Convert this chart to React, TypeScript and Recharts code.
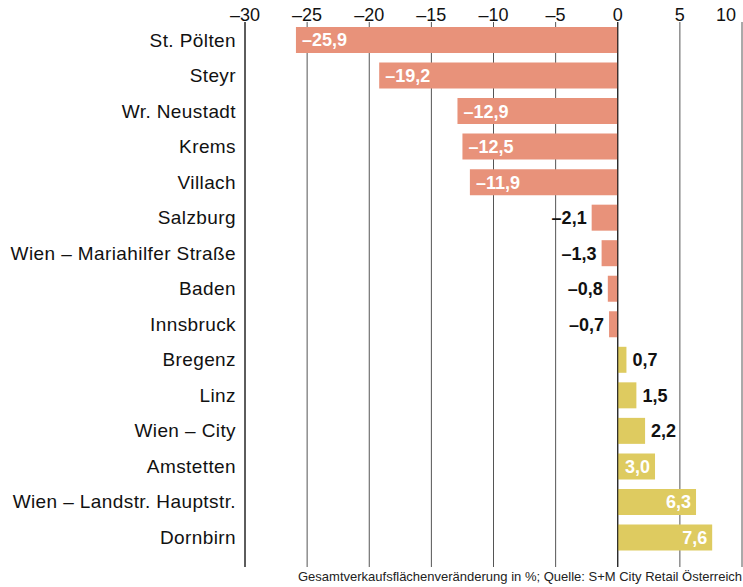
import { Bar, BarChart, CartesianGrid, Cell, LabelList, ReferenceLine, XAxis, YAxis } from 'recharts'

const salmon = '#e8927a'
const yellow = '#decb60'
const font = '"Liberation Sans", Arial, Helvetica, sans-serif'

const cities = [
  'St. Pölten',
  'Steyr',
  'Wr. Neustadt',
  'Krems',
  'Villach',
  'Salzburg',
  'Wien – Mariahilfer Straße',
  'Baden',
  'Innsbruck',
  'Bregenz',
  'Linz',
  'Wien – City',
  'Amstetten',
  'Wien – Landstr. Hauptstr.',
  'Dornbirn',
]

const changes = [-25.9, -19.2, -12.9, -12.5, -11.9, -2.1, -1.3, -0.8, -0.7, 0.7, 1.5, 2.2, 3.0, 6.3, 7.6]

const xTicks = [-30, -25, -20, -15, -10, -5, 0, 5, 10]

const footnote = 'Gesamtverkaufsflächenveränderung in %; Quelle: S+M City Retail Österreich'

const data = cities.map((city, i) => ({ city, change: changes[i] }))

function fmt(v: number, digits: number) {
  const s = Math.abs(v).toFixed(digits).replace('.', ',')
  return v < 0 ? '–' + s : s
}

function TopTick(props: any) {
  const { x, y, payload } = props
  const last = payload.value === xTicks[xTicks.length - 1]
  return (
    <text x={last ? x + 1 : x} y={y} textAnchor={last ? 'end' : 'middle'} fontFamily={font} fontSize={18} fill="#111">
      {fmt(payload.value, 0)}
    </text>
  )
}

function ValueLabel(props: any) {
  const { x, y, width, height, value } = props
  const left = Math.min(x, x + width)
  const right = Math.max(x, x + width)
  const inside = Math.abs(value) >= 3
  let tx = 0
  let anchor = 'start'
  if (value < 0) {
    tx = inside ? left + 6 : left - 5
    anchor = inside ? 'start' : 'end'
  } else {
    tx = inside ? right - 5 : right + 6
    anchor = inside ? 'end' : 'start'
  }
  return (
    <text
      x={tx}
      y={y + height / 2}
      dy="0.36em"
      textAnchor={anchor}
      fontFamily={font}
      fontSize={18}
      fontWeight="bold"
      fill={inside ? '#fff' : '#111'}
    >
      {fmt(value, 1)}
    </text>
  )
}

export default function App() {
  return (
    <div style={{ position: 'absolute', left: 0, top: 0, width: 743, height: 587, background: '#fff' }}>
      <BarChart
        width={743}
        height={587}
        data={data}
        layout="vertical"
        margin={{ top: 0, right: 1, bottom: 20, left: 0 }}
      >
        <CartesianGrid horizontal={false} stroke="#555" />
        <XAxis
          type="number"
          orientation="top"
          domain={[-30, 10]}
          ticks={xTicks}
          height={22}
          axisLine={false}
          tickLine={false}
          tickSize={0}
          tickMargin={1}
          tick={<TopTick />}
        />
        <XAxis
          xAxisId="base"
          type="number"
          orientation="bottom"
          domain={[-30, 10]}
          height={0}
          tick={false}
          tickLine={false}
          axisLine={{ stroke: '#111' }}
        />
        <YAxis
          type="category"
          dataKey="city"
          width={245}
          padding={{ top: 0, bottom: 12 }}
          axisLine={{ stroke: '#111' }}
          tickLine={false}
          tickSize={0}
          tickMargin={9}
          tick={{ fontFamily: font, fontSize: 19, fill: '#111', letterSpacing: 0.4 }}
          interval={0}
        />
        <Bar dataKey="change" barSize={26} isAnimationActive={false}>
          {data.map((d) => (
            <Cell key={d.city} fill={d.change < 0 ? salmon : yellow} />
          ))}
          <LabelList dataKey="change" content={<ValueLabel />} />
        </Bar>
        <ReferenceLine x={0} stroke="#111" />
      </BarChart>
      <div
        style={{
          position: 'absolute',
          right: 1,
          top: 569,
          fontFamily: font,
          fontSize: 13,
          color: '#222',
          whiteSpace: 'nowrap',
        }}
      >
        {footnote}
      </div>
    </div>
  )
}
